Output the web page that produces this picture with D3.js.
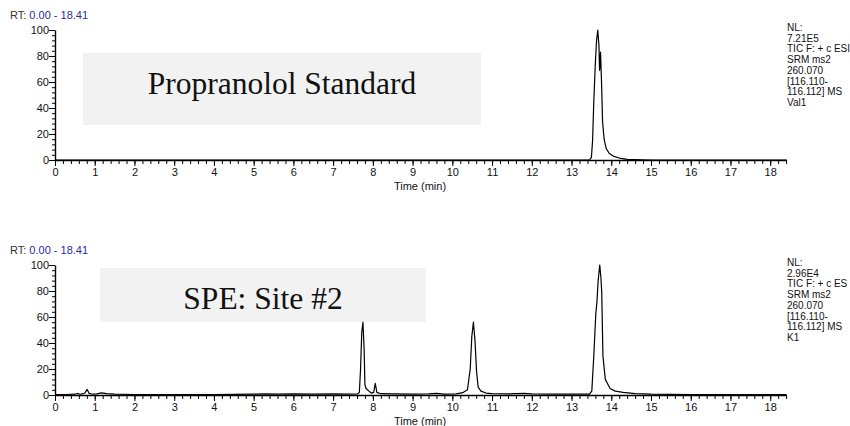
<!DOCTYPE html>
<html>
<head>
<meta charset="utf-8">
<script src="https://cdn.jsdelivr.net/npm/d3@7"></script>
<style>
body { margin: 0; background: #fff; }
svg { display: block; font-family: Arial, "Liberation Sans", sans-serif; }
</style>
</head>
<body>
<div id="chart"></div>
<script>
const WIDTH = 850;
const HEIGHT = 426;

// retention time (min) and relative abundance (%)
const standardTimes = [0, 13.45, 13.5, 13.53, 13.56, 13.6, 13.63, 13.66, 13.69, 13.705, 13.715, 13.73, 13.755, 13.78, 13.82, 13.87, 13.95, 14.05, 14.2, 14.4, 15, 18.41];
const standardSignal = [0, 0, 2, 15, 45, 75, 92, 100, 88, 69, 72, 83, 60, 30, 16, 9, 5, 3, 1.5, 0.5, 0, 0];

const siteTimes = [0, 0.3, 0.5, 0.58, 0.63, 0.7, 0.75, 0.81, 0.86, 0.95, 1.05, 1.17, 1.3, 1.5, 2, 2.5, 3, 3.5, 4, 4.5, 5, 5.3, 5.6, 6, 6.5, 7, 7.4, 7.62,
  7.66, 7.69, 7.72, 7.75, 7.78, 7.8, 7.83, 7.9, 7.96, 8.02, 8.06, 8.1, 8.2, 8.5, 9, 9.4, 9.6, 9.8, 10.1, 10.26, 10.38,
  10.45, 10.49, 10.53, 10.57, 10.61, 10.65, 10.72, 10.85, 11, 11.4, 11.8, 12, 12.5, 13, 13.45, 13.51, 13.56, 13.61, 13.64,
  13.67, 13.71, 13.74, 13.76, 13.79, 13.85, 13.97, 14.1, 14.3, 14.6, 15, 16, 17, 18.41];
const siteSignal = [0.3, 0.4, 0.6, 1.2, 0.6, 1.0, 1.5, 4.3, 1.2, 0.6, 0.8, 1.6, 1.0, 0.6, 0.4, 0.4, 0.3, 0.4, 0.3, 0.5, 0.6, 0.8, 0.6, 0.8, 0.6, 0.8, 0.6, 0.8,
  2, 20, 48, 56, 35, 8, 5, 3, 1.5, 2, 9, 2, 1, 0.8, 0.7, 0.8, 1.3, 0.7, 0.8, 1.8, 4,
  20, 45, 56, 42, 18, 6, 3, 1.5, 1, 0.8, 1.3, 0.8, 0.6, 0.6, 0.6, 3, 30, 62, 72,
  88, 100, 90, 79, 30, 12, 5, 3, 2, 1, 0.6, 0.3, 0.3, 0.3];

const xTicks = d3.range(0, 19, 1);
const yTicks = [0, 20, 40, 60, 80, 100];
const standardInfo = ['NL:', '7.21E5', 'TIC F: + c ESI', 'SRM ms2', '260.070', '[116.110-', '116.112]  MS', 'Val1'];
const siteInfo = ['NL:', '2.96E4', 'TIC F: + c ES', 'SRM ms2', '260.070', '[116.110-', '116.112]  MS', 'K1'];

const svg = d3.select('#chart')
.append('svg')
.attr('width', WIDTH)
.attr('height', HEIGHT);

function drawPanel(top, times, signal, title, box, info) {
    const x = d3.scaleLinear().domain([0, 18.41]).range([55, 786.5]);
    const y = d3.scaleLinear().domain([0, 100]).range([top + 130, top]);
    const g = svg.append('g');

    // grey title box
    g.append('rect')
    .attr('x', box[0])
    .attr('y', top + box[1])
    .attr('width', box[2])
    .attr('height', box[3])
    .attr('fill', '#f2f2f2');
    g.append('text')
    .attr('x', box[0] + box[2] / 2)
    .attr('y', top + box[4])
    .attr('text-anchor', 'middle')
    .style('font-family', '"Liberation Serif", "Times New Roman", serif')
    .style('font-size', '31.5px')
    .attr('fill', '#111')
    .text(title);

    // minor ticks first, then major ones on top
    g.append('g')
    .attr('transform', `translate(0, ${y(0)})`)
    .call(d3.axisBottom(x).tickValues(d3.range(0, 18.41, 0.2)).tickSize(4).tickFormat(''))
    .call(a => a.select('.domain').remove());
    g.append('g')
    .attr('transform', `translate(0, ${y(0)})`)
    .call(d3.axisBottom(x).tickValues(xTicks).tickSize(6).tickSizeOuter(0).tickPadding(2).tickFormat(d3.format('d')))
    .call(a => a.selectAll('text').style('font-size', '11px').attr('fill', '#111'));
    g.append('g')
    .attr('transform', `translate(55, 0)`)
    .call(d3.axisLeft(y).tickValues(d3.range(0, 101, 4)).tickSize(3).tickFormat(''))
    .call(a => a.select('.domain').remove());
    g.append('g')
    .attr('transform', `translate(55, 0)`)
    .call(d3.axisLeft(y).tickValues(yTicks).tickSize(6).tickSizeOuter(0).tickPadding(0))
    .call(a => a.selectAll('text').style('font-size', '11px').attr('fill', '#111'));
    g.selectAll('.domain').attr('stroke-width', 1.4);

    g.append('text')
    .attr('x', 420)
    .attr('y', top + 160)
    .attr('text-anchor', 'middle')
    .style('font-size', '11px')
    .attr('fill', '#111')
    .text('Time (min)');

    const rt = g.append('text')
    .attr('x', 10)
    .attr('y', top - 11)
    .style('font-size', '11px');
    rt.append('tspan').attr('fill', '#333').text('RT: ');
    rt.append('tspan').attr('fill', '#2a2aa8').text('0.00 - 18.41');

    // trace
    const line = d3.line()
    .x((d, i) => x(times[i]))
    .y(d => y(d));
    g.append('path')
    .datum(signal)
    .attr('d', line)
    .attr('fill', 'none')
    .attr('stroke', '#000')
    .attr('stroke-width', 1.2)
    .attr('stroke-linejoin', 'round');

    g.append('g')
    .selectAll('text')
    .data(info)
    .enter()
    .append('text')
    .attr('x', 787)
    .attr('y', (d, i) => top + 1 + i * 10.7)
    .style('font-size', '10px')
    .attr('fill', '#111')
    .text(d => d);
}

drawPanel(30, standardTimes, standardSignal, 'Propranolol Standard', [83, 23, 398, 72, 64], standardInfo);
drawPanel(265, siteTimes, siteSignal, 'SPE: Site #2', [100, 3, 326, 54, 44], siteInfo);
</script>
</body>
</html>
